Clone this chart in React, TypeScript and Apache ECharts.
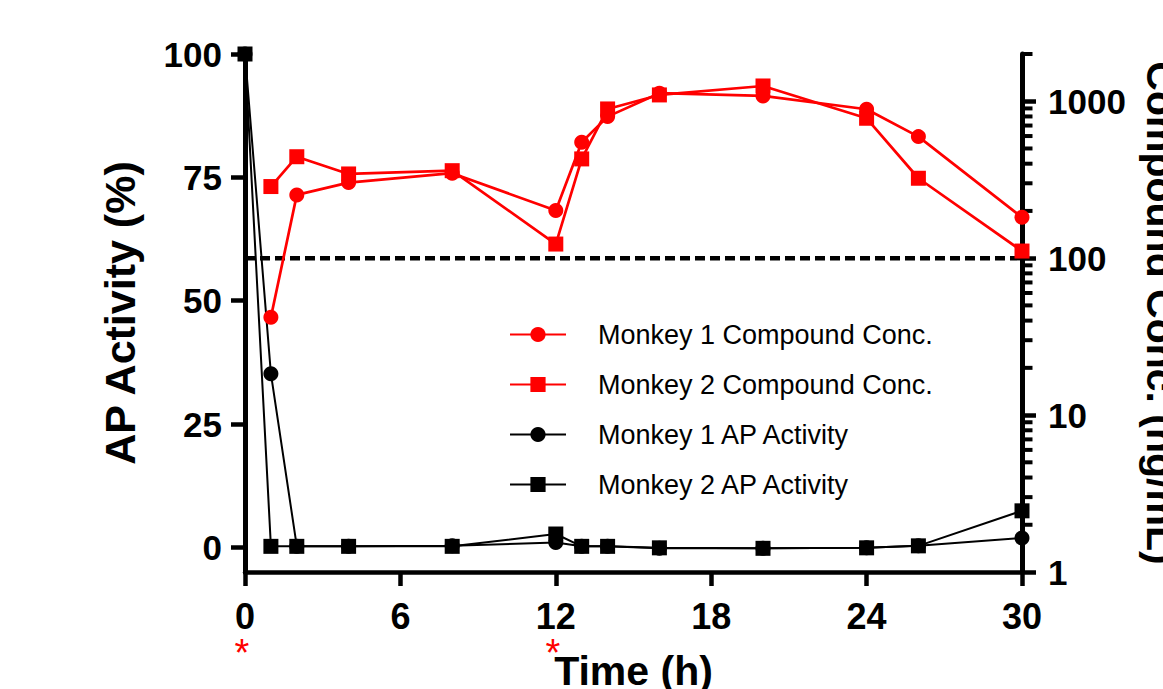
import React, { useEffect, useRef } from 'react';
import * as echarts from 'echarts';

// ---- data ----
const TIMES_AP = [0, 1, 2, 4, 8, 12, 13, 14, 16, 20, 24, 26, 30];
const M1_AP = [100, 35.2, 0.2, 0.2, 0.3, 1.0, 0.2, 0.2, -0.2, -0.2, -0.1, 0.3, 1.9];
const M2_AP = [100, 0.2, 0.2, 0.2, 0.2, 2.7, 0.2, 0.2, -0.1, -0.2, -0.1, 0.3, 7.4];

const TIMES_CONC = [1, 2, 4, 8, 12, 13, 14, 16, 20, 24, 26, 30];
const M1_CONC = [42, 253, 303, 348, 201, 548, 798, 1125, 1081, 889, 595, 182];
const M2_CONC = [286, 443, 344, 361, 123, 429, 893, 1097, 1251, 779, 323, 111];

const LLOQ = 100;
const DOSE_TIMES = [0, 12];

const X_MIN = 0;
const X_MAX = 30;
const X_INTERVAL = 6;
const LEFT_MIN = -5;
const LEFT_MAX = 100;
const LEFT_TICKS = [0, 25, 50, 75, 100];
const RIGHT_MIN = 1;
const RIGHT_MAX = 2000;
const RIGHT_TICKS = [1, 10, 100, 1000];
const RIGHT_MINOR = [2, 3, 4, 5, 6, 7, 8, 9, 20, 30, 40, 50, 60, 70, 80, 90, 200, 300, 400, 500, 600, 700, 800, 900, 2000];

const NAMES = [
  'Monkey 1 Compound Conc.',
  'Monkey 2 Compound Conc.',
  'Monkey 1 AP Activity',
  'Monkey 2 AP Activity',
];

const FONT = '"Liberation Sans", Arial, Helvetica, sans-serif';
const RED = '#ff0000';
const BLACK = '#000000';

function zip(xs: number[], ys: number[]) {
  return xs.map((x, i) => [x, ys[i]]);
}

export default function App() {
  const ref = useRef<HTMLDivElement>(null);

  useEffect(() => {
    if (!ref.current) return;
    const chart = echarts.init(ref.current, undefined, { renderer: 'svg' });

    const option: any = {
      animation: false,
      backgroundColor: '#ffffff',
      textStyle: { fontFamily: FONT },
      grid: {
        left: 245,
        right: 141,
        top: 54,
        bottom: 117,
        containLabel: false,
        outerBoundsMode: 'none',
      },
      legend: {
        orient: 'vertical',
        left: 509,
        top: 321,
        padding: 0,
        itemGap: 23,
        itemWidth: 56,
        itemHeight: 19,
        data: NAMES,
        textStyle: {
          fontFamily: FONT,
          fontSize: 27,
          color: BLACK,
          padding: [0, 0, 0, 27],
        },
      },
      xAxis: {
        type: 'value',
        min: X_MIN,
        max: X_MAX,
        interval: X_INTERVAL,
        name: 'Time (h)',
        nameLocation: 'middle',
        nameGap: 78,
        nameTextStyle: { fontFamily: FONT, fontSize: 41, fontWeight: 'bold', color: BLACK },
        axisLine: { show: true, onZero: false, lineStyle: { color: BLACK, width: 4.5 } },
        axisTick: { show: true, inside: false, length: 14, lineStyle: { color: BLACK, width: 4.5 } },
        axisLabel: { margin: 26, fontFamily: FONT, fontSize: 36, fontWeight: 'bold', color: BLACK },
        splitLine: { show: false },
      },
      yAxis: [
        {
          type: 'value',
          position: 'left',
          min: LEFT_MIN,
          max: LEFT_MAX,
          name: 'AP Activity (%)',
          nameLocation: 'middle',
          nameRotate: 90,
          nameGap: 104,
          nameTextStyle: { fontFamily: FONT, fontSize: 43, fontWeight: 'bold', color: BLACK },
          axisLine: { show: true, onZero: false, lineStyle: { color: BLACK, width: 5 } },
          axisTick: {
            show: true,
            inside: false,
            length: 14,
            customValues: LEFT_TICKS,
            lineStyle: { color: BLACK, width: 4.5 },
          },
          axisLabel: {
            margin: 23,
            customValues: LEFT_TICKS,
            fontFamily: FONT,
            fontSize: 35,
            fontWeight: 'bold',
            color: BLACK,
          },
          splitLine: { show: false },
        },
        {
          type: 'log',
          position: 'right',
          min: RIGHT_MIN,
          max: RIGHT_MAX,
          logBase: 10,
          name: 'Compound Conc. (ng/mL)',
          nameLocation: 'middle',
          nameRotate: -90,
          nameGap: 118,
          nameTextStyle: { fontFamily: FONT, fontSize: 41, fontWeight: 'bold', color: BLACK },
          axisLine: { show: true, onZero: false, lineStyle: { color: BLACK, width: 5 } },
          axisTick: {
            show: true,
            inside: false,
            length: 14,
            customValues: RIGHT_TICKS,
            lineStyle: { color: BLACK, width: 4.5 },
          },
          axisLabel: {
            margin: 26,
            customValues: RIGHT_TICKS,
            formatter: (v: number) => String(Math.round(v)),
            fontFamily: FONT,
            fontSize: 35,
            fontWeight: 'bold',
            color: BLACK,
          },
          minorTick: { show: false },
          splitLine: { show: false },
        },
      ],
      series: [
        {
          name: 'LLOQ',
          type: 'line',
          yAxisIndex: 1,
          data: [[X_MIN, LLOQ], [X_MAX, LLOQ]],
          symbol: 'none',
          silent: true,
          lineStyle: { color: BLACK, width: 4.5, type: [10, 5] },
          z: 1,
        },
        {
          name: 'minorTicks',
          type: 'custom',
          yAxisIndex: 1,
          silent: true,
          clip: false,
          data: RIGHT_MINOR.map((v) => [X_MAX, v]),
          encode: { x: 0, y: 1 },
          renderItem: (params: any, api: any) => {
            const p = api.coord([api.value(0), api.value(1)]);
            return {
              type: 'line',
              shape: { x1: p[0], y1: p[1], x2: p[0] + 10.5, y2: p[1] },
              style: { stroke: BLACK, lineWidth: 4 },
            };
          },
          z: 3,
        },
        {
          name: 'doses',
          type: 'custom',
          yAxisIndex: 0,
          silent: true,
          clip: false,
          data: DOSE_TIMES.map((t) => [t, LEFT_MIN]),
          encode: { x: 0, y: 1 },
          renderItem: (params: any, api: any) => {
            const p = api.coord([api.value(0), api.value(1)]);
            return {
              type: 'text',
              x: p[0] - 3,
              y: p[1] + 81,
              style: {
                text: '*',
                fill: RED,
                fontSize: 38,
                fontFamily: FONT,
                align: 'center',
                verticalAlign: 'middle',
              },
            };
          },
          z: 3,
        },
        {
          name: NAMES[2],
          type: 'line',
          yAxisIndex: 0,
          data: zip(TIMES_AP, M1_AP),
          symbol: 'circle',
          symbolSize: 15,
          itemStyle: { color: BLACK },
          lineStyle: { color: BLACK, width: 2 },
          z: 4,
        },
        {
          name: NAMES[3],
          type: 'line',
          yAxisIndex: 0,
          data: zip(TIMES_AP, M2_AP),
          symbol: 'rect',
          symbolSize: 15,
          itemStyle: { color: BLACK },
          lineStyle: { color: BLACK, width: 2 },
          z: 5,
        },
        {
          name: NAMES[0],
          type: 'line',
          yAxisIndex: 1,
          data: zip(TIMES_CONC, M1_CONC),
          symbol: 'circle',
          symbolSize: 15,
          itemStyle: { color: RED },
          lineStyle: { color: RED, width: 2.7 },
          z: 6,
        },
        {
          name: NAMES[1],
          type: 'line',
          yAxisIndex: 1,
          data: zip(TIMES_CONC, M2_CONC),
          symbol: 'rect',
          symbolSize: 15,
          itemStyle: { color: RED },
          lineStyle: { color: RED, width: 2.7 },
          z: 7,
        },
      ],
    };

    chart.setOption(option);
    return () => {
      chart.dispose();
    };
  }, []);

  return (
    <div
      ref={ref}
      style={{ position: 'fixed', left: 0, top: 0, width: 1163, height: 689, background: '#fff' }}
    />
  );
}
